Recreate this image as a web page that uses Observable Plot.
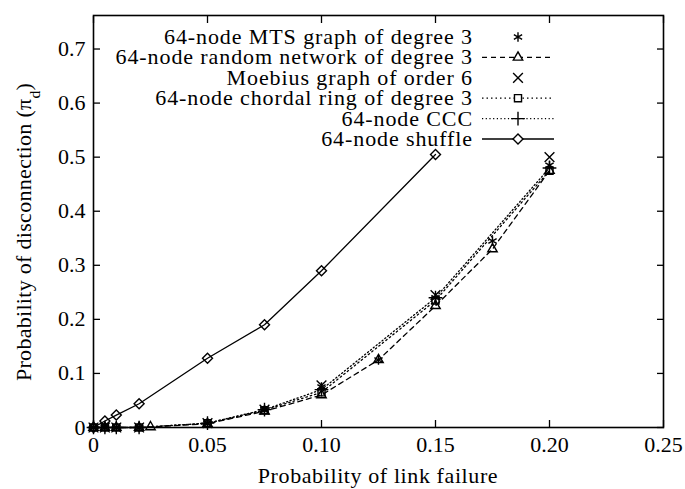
<!DOCTYPE html>
<html><head><meta charset="utf-8">
<script src="https://cdn.jsdelivr.net/npm/d3@7"></script>
<script src="https://cdn.jsdelivr.net/npm/@observablehq/plot@0.6"></script>
<style>
body{margin:0;background:#fff}
svg, svg text, svg tspan { font-family: 'Liberation Serif', 'Times New Roman', Times, 'DejaVu Serif', serif !important; }
</style>
</head><body><div id="chart"></div>
<script>
// ---- data ----
const seriesNames = [
  "64-node MTS graph of degree 3",
  "64-node random network of degree 3",
  "Moebius graph of order 6",
  "64-node chordal ring of degree 3",
  "64-node CCC",
  "64-node shuffle"
];
const mtsX = [0, 0.005, 0.01, 0.02, 0.05, 0.075, 0.1, 0.125, 0.15, 0.175, 0.2];
const mtsY = [0, 0, 0, 0, 0.008, 0.033, 0.075, 0.125, 0.24, 0.345, 0.485];
const randomX = [0, 0.005, 0.01, 0.02, 0.025, 0.05, 0.075, 0.1, 0.125, 0.15, 0.175, 0.2];
const randomY = [0, 0, 0, 0, 0.001, 0.007, 0.03, 0.06, 0.125, 0.225, 0.33, 0.475];
const moebiusX = [0, 0.005, 0.01, 0.02, 0.05, 0.075, 0.1, 0.15, 0.2];
const moebiusY = [0, 0, 0, 0, 0.008, 0.033, 0.078, 0.245, 0.5];
const chordalX = [0, 0.005, 0.01, 0.02, 0.05, 0.075, 0.1, 0.15, 0.2];
const chordalY = [0, 0, 0, 0, 0.008, 0.032, 0.065, 0.235, 0.475];
const cccX = [0, 0.005, 0.01, 0.02, 0.05, 0.075, 0.1, 0.15, 0.2];
const cccY = [0, 0, 0, 0, 0.008, 0.033, 0.07, 0.24, 0.48];
const shuffleX = [0, 0.005, 0.01, 0.02, 0.05, 0.075, 0.1, 0.15];
const shuffleY = [0, 0.012, 0.023, 0.044, 0.128, 0.19, 0.29, 0.505];

const xTicks = [0, 0.05, 0.1, 0.15, 0.2, 0.25];
const xTickLabels = ["0", "0.05", "0.10", "0.15", "0.20", "0.25"];
const yTicks = [0, 0.1, 0.2, 0.3, 0.4, 0.5, 0.6, 0.7];
const yTickLabels = ["0", "0.1", "0.2", "0.3", "0.4", "0.5", "0.6", "0.7"];
const xTitle = "Probability of link failure";
const yTitleMain = "Probability of disconnection (\u03C0";
const yTitleSub = "d";
const yTitleEnd = ")";

// ---- build ----
const series = [
  {name: seriesNames[0], xs: mtsX, ys: mtsY, symbol: "asterisk", line: false, dash: null},
  {name: seriesNames[1], xs: randomX, ys: randomY, symbol: "triangle2", line: true, dash: "5,4"},
  {name: seriesNames[2], xs: moebiusX, ys: moebiusY, symbol: "times", line: false, dash: null},
  {name: seriesNames[3], xs: chordalX, ys: chordalY, symbol: "square2", line: true, dash: "1.5,3"},
  {name: seriesNames[4], xs: cccX, ys: cccY, symbol: "plus", line: true, dash: "1.2,2.5"},
  {name: seriesNames[5], xs: shuffleX, ys: shuffleY, symbol: "diamond2", line: true, dash: null}
];
const tables = series.map(s => s.xs.map((x, i) => ({x, y: s.ys[i]})));

const FONT = "'Liberation Serif','Times New Roman',Times,serif";
const W = 685, H = 489, mL = 93, mR = 22, mT = 15, mB = 62;
const FS = 22;
const marks = [];
series.forEach((s, k) => {
  if (s.line) marks.push(Plot.line(tables[k], {x: "x", y: "y", stroke: "#000", strokeWidth: 1.3, strokeDasharray: s.dash}));
});
series.forEach((s, k) => {
  marks.push(Plot.dot(tables[k], {x: "x", y: "y", symbol: s.symbol, r: 4.5, stroke: "#000", fill: "none", strokeWidth: 1.4}));
});
const xFmt = d => xTickLabels[xTicks.indexOf(d)];
const yFmt = d => yTickLabels[yTicks.indexOf(d)];
marks.push(
  Plot.axisX(xTicks, {anchor: "bottom", tickSize: -7, tickFormat: () => "", label: null, strokeWidth: 1.3}),
  Plot.axisX(xTicks, {anchor: "top", tickSize: -7, tickFormat: () => "", label: null, strokeWidth: 1.3}),
  Plot.axisY(yTicks, {anchor: "left", tickSize: -7, tickFormat: () => "", label: null, strokeWidth: 1.3}),
  Plot.axisY(yTicks, {anchor: "right", tickSize: -7, tickFormat: () => "", label: null, strokeWidth: 1.3}),
  Plot.axisX(xTicks, {anchor: "bottom", tickSize: 0, tickPadding: 9, tickFormat: xFmt, label: null, fontSize: FS, fontFamily: FONT}),
  Plot.axisY(yTicks, {anchor: "left", tickSize: 0, tickPadding: 8, tickFormat: yFmt, label: null, fontSize: FS, fontFamily: FONT}),
  Plot.frame({stroke: "#000", strokeWidth: 1.6})
);

const svg = Plot.plot({
  width: W, height: H,
  marginLeft: mL, marginRight: mR, marginTop: mT, marginBottom: mB,
  x: {domain: [0, 0.25], axis: null},
  y: {domain: [0, 0.762], axis: null},
  style: {fontFamily: FONT, fontSize: FS + "px", color: "#000", background: "#fff"},
  marks
});

const g = d3.select(svg).append("g").attr("font-family", FONT).attr("font-size", FS).attr("fill", "#000");
// legend
const legTextRight = 473, legMarker = 518, legL = 482, legR = 554, legTop = 37, legStep = 20.4;
const symMap = {asterisk: d3.symbolAsterisk, triangle2: d3.symbolTriangle2, times: d3.symbolTimes, square2: d3.symbolSquare2, plus: d3.symbolPlus, diamond2: d3.symbolDiamond2};
series.forEach((s, i) => {
  const y = legTop + i * legStep;
  g.append("text").attr("x", legTextRight).attr("y", y).attr("dy", "0.32em").attr("text-anchor", "end").attr("letter-spacing", "0.9px").text(s.name);
  if (s.line) {
    const ln = g.append("line").attr("x1", legL).attr("x2", legR).attr("y1", y).attr("y2", y).attr("stroke", "#000").attr("stroke-width", 1.3);
    if (s.dash) ln.attr("stroke-dasharray", s.dash);
  }
  g.append("path").attr("d", d3.symbol(symMap[s.symbol], 4.5 * 4.5 * Math.PI)()).attr("transform", `translate(${legMarker},${y})`).attr("fill", s.line ? "#fff" : "none").attr("stroke", "#000").attr("stroke-width", 1.4);
});
// axis titles
g.append("text").attr("x", 378).attr("y", 476).attr("dy", "0.32em").attr("text-anchor", "middle").attr("letter-spacing", "0.6px").text(xTitle);
const yt = g.append("text").attr("transform", `translate(24,232) rotate(-90)`).attr("text-anchor", "middle").attr("dy", "0.32em").attr("letter-spacing", "0.3px");
yt.append("tspan").text(yTitleMain);
yt.append("tspan").attr("font-size", FS * 0.7).attr("baseline-shift", "sub").text(yTitleSub);
yt.append("tspan").text(yTitleEnd);

document.getElementById("chart").appendChild(svg);
</script>
</body></html>
